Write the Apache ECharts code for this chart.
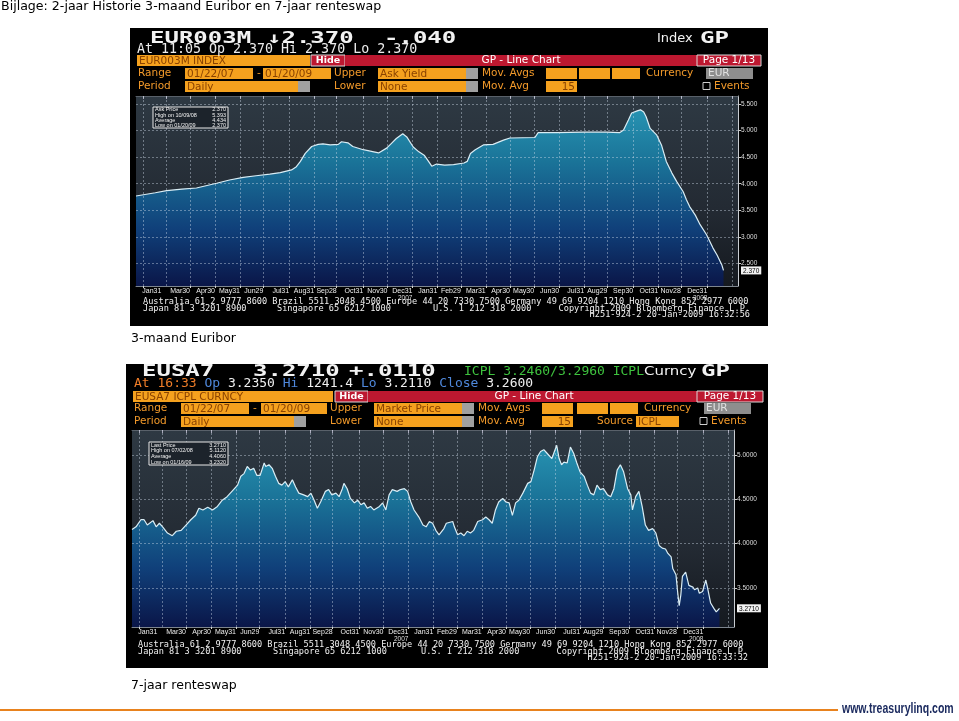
<!DOCTYPE html>
<html><head><meta charset="utf-8">
<script src="https://cdn.jsdelivr.net/npm/echarts@6/dist/echarts.min.js"></script>
<style>html,body{margin:0;padding:0;background:#fff;}#c{width:959px;height:721px;}</style>
</head><body><div id="c"></div>
<script>
// ---------- DATA ----------
const euriborDates = ['2007-01-22','2007-02-15','2007-03-01','2007-03-20','2007-04-07','2007-05-02','2007-05-18','2007-06-04','2007-06-20','2007-07-07','2007-07-20','2007-08-03','2007-08-09','2007-08-14','2007-08-20','2007-08-28','2007-09-05','2007-09-11','2007-09-20','2007-09-30','2007-10-04','2007-10-12','2007-10-18','2007-10-31','2007-11-19','2007-11-29','2007-12-05','2007-12-11','2007-12-19','2007-12-24','2008-01-01','2008-01-08','2008-01-15','2008-01-20','2008-01-24','2008-01-30','2008-02-09','2008-02-20','2008-03-04','2008-03-08','2008-03-12','2008-03-18','2008-03-28','2008-04-09','2008-04-22','2008-04-30','2008-05-31','2008-06-04','2008-06-06','2008-06-27','2008-07-30','2008-08-28','2008-09-13','2008-09-18','2008-09-24','2008-09-28','2008-10-05','2008-10-09','2008-10-13','2008-10-16','2008-10-21','2008-10-29','2008-11-04','2008-11-10','2008-11-17','2008-11-23','2008-12-01','2008-12-05','2008-12-09','2008-12-16','2008-12-22','2008-12-30','2009-01-07','2009-01-12','2009-01-18','2009-01-20'];
const euriborValues = [3.77,3.83,3.87,3.90,3.92,4.01,4.07,4.12,4.15,4.18,4.21,4.26,4.32,4.42,4.57,4.70,4.74,4.75,4.73,4.74,4.79,4.77,4.70,4.64,4.58,4.67,4.76,4.85,4.94,4.88,4.69,4.60,4.53,4.42,4.33,4.37,4.35,4.36,4.39,4.42,4.57,4.64,4.73,4.74,4.82,4.86,4.87,4.96,4.97,4.96,4.97,4.97,4.96,5.01,5.20,5.33,5.37,5.39,5.35,5.26,5.04,4.92,4.73,4.42,4.20,4.04,3.85,3.70,3.57,3.41,3.23,3.04,2.79,2.66,2.47,2.37];

const swapDates = ['2007-01-22','2007-01-27','2007-02-02','2007-02-06','2007-02-10','2007-02-17','2007-02-21','2007-02-25','2007-03-01','2007-03-07','2007-03-13','2007-03-18','2007-03-24','2007-03-30','2007-04-05','2007-04-11','2007-04-15','2007-04-20','2007-04-26','2007-05-02','2007-05-08','2007-05-14','2007-05-20','2007-05-26','2007-06-02','2007-06-06','2007-06-10','2007-06-14','2007-06-18','2007-06-22','2007-06-26','2007-06-30','2007-07-05','2007-07-07','2007-07-11','2007-07-15','2007-07-19','2007-07-23','2007-07-27','2007-07-31','2007-08-04','2007-08-09','2007-08-13','2007-08-17','2007-08-23','2007-08-28','2007-09-01','2007-09-05','2007-09-09','2007-09-13','2007-09-19','2007-09-23','2007-09-27','2007-10-02','2007-10-06','2007-10-10','2007-10-12','2007-10-16','2007-10-20','2007-10-25','2007-10-29','2007-11-02','2007-11-06','2007-11-10','2007-11-14','2007-11-18','2007-11-25','2007-11-29','2007-12-03','2007-12-07','2007-12-11','2007-12-17','2007-12-21','2007-12-26','2007-12-30','2008-01-03','2008-01-07','2008-01-13','2008-01-18','2008-01-22','2008-01-26','2008-01-30','2008-02-03','2008-02-07','2008-02-13','2008-02-16','2008-02-24','2008-02-26','2008-03-01','2008-03-05','2008-03-09','2008-03-13','2008-03-17','2008-03-21','2008-03-26','2008-04-01','2008-04-05','2008-04-09','2008-04-13','2008-04-17','2008-04-21','2008-04-26','2008-04-30','2008-05-04','2008-05-08','2008-05-12','2008-05-16','2008-05-21','2008-05-27','2008-05-31','2008-06-04','2008-06-08','2008-06-12','2008-06-16','2008-06-20','2008-06-26','2008-07-02','2008-07-05','2008-07-08','2008-07-11','2008-07-15','2008-07-19','2008-07-23','2008-07-27','2008-07-31','2008-08-05','2008-08-09','2008-08-13','2008-08-17','2008-08-21','2008-08-25','2008-08-29','2008-09-03','2008-09-07','2008-09-11','2008-09-15','2008-09-19','2008-09-23','2008-09-28','2008-10-02','2008-10-04','2008-10-08','2008-10-12','2008-10-16','2008-10-20','2008-10-24','2008-10-29','2008-10-31','2008-11-02','2008-11-06','2008-11-10','2008-11-14','2008-11-17','2008-11-21','2008-11-23','2008-11-27','2008-11-29','2008-12-01','2008-12-03','2008-12-05','2008-12-09','2008-12-11','2008-12-13','2008-12-18','2008-12-20','2008-12-24','2008-12-26','2008-12-30','2009-01-03','2009-01-05','2009-01-09','2009-01-13','2009-01-16','2009-01-20'];
const swapValues = [4.16,4.19,4.27,4.27,4.21,4.26,4.19,4.23,4.19,4.12,4.09,4.14,4.15,4.21,4.27,4.32,4.40,4.38,4.41,4.38,4.42,4.49,4.53,4.59,4.66,4.76,4.79,4.87,4.83,4.85,4.77,4.77,4.91,4.87,4.89,4.85,4.76,4.68,4.66,4.70,4.64,4.72,4.64,4.57,4.55,4.53,4.57,4.49,4.40,4.47,4.59,4.61,4.55,4.57,4.53,4.62,4.68,4.62,4.51,4.46,4.49,4.44,4.46,4.40,4.42,4.38,4.42,4.46,4.38,4.55,4.61,4.59,4.61,4.62,4.59,4.47,4.38,4.30,4.21,4.19,4.25,4.23,4.15,4.10,4.17,4.23,4.25,4.19,4.10,4.12,4.09,4.14,4.12,4.15,4.25,4.27,4.30,4.27,4.23,4.38,4.47,4.51,4.47,4.46,4.32,4.46,4.49,4.57,4.68,4.70,4.83,4.98,5.04,5.06,5.02,4.96,5.11,4.96,4.89,4.92,4.91,5.09,5.02,4.91,4.81,4.76,4.66,4.57,4.55,4.66,4.61,4.62,4.55,4.53,4.62,4.83,4.89,4.81,4.62,4.55,4.38,4.53,4.59,4.42,4.21,4.15,4.17,4.19,4.12,3.98,3.95,3.94,3.89,3.85,3.72,3.65,3.46,3.30,3.42,3.63,3.68,3.67,3.53,3.51,3.48,3.50,3.44,3.46,3.59,3.51,3.33,3.27,3.23,3.27];

const monthTickDates = ['2007-01-31','2007-02-28','2007-03-30','2007-04-30','2007-05-31','2007-06-29','2007-07-31','2007-08-31','2007-09-28','2007-10-31','2007-11-30','2007-12-31','2008-01-31','2008-02-29','2008-03-31','2008-04-30','2008-05-30','2008-06-30','2008-07-31','2008-08-29','2008-09-30','2008-10-31','2008-11-28','2008-12-31'];
const monthTickLabels = ['Jan31','...','Mar30','Apr30','May31','Jun29','Jul31','Aug31','Sep28','Oct31','Nov30','Dec31','Jan31','Feb29','Mar31','Apr30','May30','Jun30','Jul31','Aug29','Sep30','Oct31','Nov28','Dec31'];
const yearLabelDates = ['2007-12-31','2008-12-31'];
const yearLabels = ['2007','2008'];
const extraGridDates = ['2009-01-31'];
const rangeStart = '2007-01-22';
const rangeEnd = '2009-02-07';

const euriborTicks = [2.5,3.0,3.5,4.0,4.5,5.0,5.5];
const euriborLast = 2.37;
const swapTicks = [3.5,4.0,4.5,5.0];
const swapLast = 3.271;

const euriborInfoLabels = ['Ask Price','High on 10/09/08','Average','Low on 01/20/09'];
const euriborInfoValues = ['2.370','5.393','4.434','2.370'];
const swapInfoLabels = ['Last Price','High on 07/02/08','Average','Low on 01/16/09'];
const swapInfoValues = ['3.2710','5.1120','4.4060','3.2320'];

// ---------- HELPERS ----------
const ts = s => { const p = s.split('-').map(Number); return Date.UTC(p[0], p[1]-1, p[2]); };
const tickTs = monthTickDates.map(ts);
const vGridTs = monthTickDates.concat(extraGridDates).map(ts);

function xLabelFmt(v){
  const i = tickTs.findIndex(t => Math.abs(t - v) < 43200000);
  if (i < 0) return '';
  const tag = i === 0 ? 'f' : 'm';
  const yi = yearLabelDates.indexOf(monthTickDates[i]);
  return yi >= 0 ? '{m|' + monthTickLabels[i] + '}\n{y|' + yearLabels[yi] + '}' : '{' + tag + '|' + monthTickLabels[i] + '}';
}

function xAxes(gridIndex){
  return [{
    type:'value', gridIndex, min: ts(rangeStart), max: ts(rangeEnd), position:'bottom', scale:true,
    axisLine:{show:true, lineStyle:{color:'#7d858e', width:1}},
    axisTick:{show:true, customValues: tickTs, length:2, lineStyle:{color:'#d8d8d8'}},
    axisLabel:{customValues: tickTs, formatter: xLabelFmt, margin:2, align:'right', color:'#eee', fontSize:7,
      fontFamily:'Liberation Sans', showMinLabel:true, showMaxLabel:true,
      rich:{m:{fontSize:7, color:'#eeeeee', fontFamily:'Liberation Sans', lineHeight:7},
            f:{fontSize:7, color:'#eeeeee', fontFamily:'Liberation Sans', lineHeight:7, width:1, align:'left'},
            y:{fontSize:6.5, color:'#dddddd', fontFamily:'Liberation Sans', lineHeight:6.5}}},
    splitLine:{show:false}
  },{
    type:'value', gridIndex, min: ts(rangeStart), max: ts(rangeEnd), position:'top', scale:true,
    axisLine:{show:true, lineStyle:{color:'#59616a', width:1}},
    axisTick:{show:true, customValues: vGridTs, inside:true, length:3, lineStyle:{color:'#aab'}},
    axisLabel:{show:false}, splitLine:{show:false}
  }];
}

function yAxis(gridIndex, min, max, ticks, last, dec){
  return {
    type:'value', gridIndex, position:'right', min, max, scale:true,
    axisLine:{show:true, lineStyle:{color:'#c9cdd2', width:1}},
    axisTick:{show:true, customValues: ticks, length:3, lineStyle:{color:'#ccc'}},
    axisLabel:{customValues: ticks.concat([last]), margin:3, fontSize:6.5, color:'#dcdcdc', fontFamily:'Liberation Sans',
      formatter: v => Math.abs(v - last) < 1e-9 ? '{b|' + v.toFixed(dec) + '}' : v.toFixed(dec),
      rich:{b:{backgroundColor:'#f2f2f2', color:'#000', fontSize:6.5, padding:[1,2,0,2], fontFamily:'Liberation Sans'}}},
    splitLine:{show:false}
  };
}

function series(xi, yi, dates, values, ticks, top, bottom){
  return {
    type:'line', xAxisIndex:xi, yAxisIndex:yi, data: dates.map((d,i)=>[ts(d), values[i]]),
    symbol:'none', showSymbol:false, animation:false, silent:true,
    lineStyle:{color:'#d9edf5', width:1.2},
    areaStyle:{origin:'start', opacity:1, color:{type:'linear', x:0, y:top, x2:0, y2:bottom, global:true,
      colorStops:[{offset:0,color:'#2a9bb8'},{offset:0.35,color:'#1a7398'},{offset:0.7,color:'#10407a'},{offset:1,color:'#0a1648'}]}},
    markLine:{silent:true, symbol:['none','none'], animation:false, label:{show:false},
      lineStyle:{color:'rgba(210,222,235,0.42)', type:[2,2], width:1},
      data: vGridTs.map(t=>({xAxis:t})).concat(ticks.map(v=>({yAxis:v})))}
  };
}

// ---------- GRAPHICS (frame, header texts) ----------
const G = [];
const MONO = '"DejaVu Sans Mono"';
const SANS = '"DejaVu Sans"';
const ORANGE = '#f5a11e', OTXT = '#8a4200', LBL = '#f39a2a', RED = '#bd1830', GREY = '#a0a0a0';
function rect(x,y,w,h,fill,stroke,z){
  const st = {fill: fill || 'none'};
  if (stroke) { st.stroke = stroke; st.lineWidth = 1; }
  G.push({type:'rect', z: z===undefined?5:z, silent:true, shape:{x,y,width:w,height:h}, style:st});
}
function txt(x,y,text,fill,font,align,sx,rich,z){
  const st = {text, fill, font, align: align||'left', verticalAlign:'middle'};
  if (rich) st.rich = rich;
  G.push({type:'text', z: z===undefined?6:z, silent:true, x, y, scaleX: sx||1, style:st});
}
function obox(x,y,w,h,text,greyEnd,alignRight){
  rect(x,y,w,h,ORANGE);
  if (greyEnd) rect(x+w,y,12,h,GREY);
  if (text) txt(alignRight ? x+w-2 : x+2, y+h/2+0.5, text, OTXT, '10.5px '+SANS, alignRight?'right':'left');
}
function infoBox(x,y,w,h,labels,values){
  rect(x,y,w,h,'#1c232b','#e8e8e8',8);
  const lh = h/labels.length;
  labels.forEach((l,i)=>{
    txt(x+2, y+lh*(i+0.5)+0.3, l, '#f0f0f0', '5.5px "Liberation Sans"','left',1,null,9);
    txt(x+w-2, y+lh*(i+0.5)+0.3, values[i], '#f0f0f0', '5.5px "Liberation Sans"','right',1,null,9);
  });
}
const BIG = 'bold 16px '+MONO;

// page title + captions
txt(1, 7, 'Bijlage: 2-jaar Historie 3-maand Euribor en 7-jaar renteswap', '#000', '12.6px '+SANS);
txt(131, 339, '3-maand Euribor', '#000', '12.5px '+SANS);
txt(131, 686, '7-jaar renteswap', '#000', '12.5px '+SANS);
G.push({type:'line', silent:true, shape:{x1:0,y1:710,x2:838,y2:710}, style:{stroke:'#e8821e', lineWidth:2}});
txt(842, 709, 'www.treasurylinq.com', '#1d2c60', 'bold 14px "Liberation Sans"', 'left', 0.75);

// ---- Panel 1 ----
rect(130, 28, 638, 298, '#000', null, -1);
txt(150, 39, 'EUR003M', '#f2f2f2', BIG, 'left', 1.5);
txt(267, 39, '\u21932.370', '#f2f2f2', BIG, 'left', 1.5);
txt(384, 39, '-.040', '#f2f2f2', BIG, 'left', 1.5);
txt(657, 39, 'Index', '#f2f2f2', '13px '+SANS);
txt(700, 39, 'GP', '#f2f2f2', BIG, 'left', 1.5);
txt(137, 50, 'At 11:05 Op 2.370 Hi 2.370 Lo 2.370', '#ececec', '13.3px '+MONO);
obox(137, 55, 173, 11, 'EUR003M INDEX');
rect(311, 55, 34, 11, RED, '#d8d8d8'); txt(328, 60.5, 'Hide', '#fff', 'bold 9.5px '+SANS, 'center');
rect(345, 55, 352, 11, RED); txt(521, 60.5, 'GP - Line Chart', '#fff', '10.5px '+SANS, 'center');
rect(697, 55, 64, 11, RED, '#d8d8d8'); txt(729, 60.5, 'Page 1/13', '#fff', '10.5px '+SANS, 'center');
txt(138, 73.5, 'Range', LBL, '10.5px '+SANS);
obox(185, 68, 68, 11, '01/22/07'); txt(257, 73, '-', LBL, '10.5px '+SANS);
obox(263, 68, 68, 11, '01/20/09');
txt(334, 73.5, 'Upper', LBL, '10.5px '+SANS);
obox(378, 68, 88, 11, 'Ask Yield', true);
txt(482, 73.5, 'Mov. Avgs', LBL, '10.5px '+SANS);
obox(546, 68, 31, 11); obox(579, 68, 31, 11); obox(612, 68, 28, 11);
txt(646, 73.5, 'Currency', LBL, '10.5px '+SANS);
rect(706, 68, 47, 11, '#8e8e8e'); txt(708, 73.5, 'EUR', '#e0e0e0', '10.5px '+SANS);
txt(138, 86.5, 'Period', LBL, '10.5px '+SANS);
obox(185, 81, 113, 11, 'Daily', true);
txt(334, 86.5, 'Lower', LBL, '10.5px '+SANS);
obox(378, 81, 88, 11, 'None', true);
txt(482, 86.5, 'Mov. Avg', LBL, '10.5px '+SANS);
obox(546, 81, 31, 11, '15', false, true);
rect(703, 82.5, 7, 7, null, '#cfcfcf'); txt(714, 86.5, 'Events', LBL, '10.5px '+SANS);
infoBox(153, 107, 75, 21, euriborInfoLabels, euriborInfoValues);
txt(143, 302, 'Australia 61 2 9777 8600 Brazil 5511 3048 4500 Europe 44 20 7330 7500 Germany 49 69 9204 1210 Hong Kong 852 2977 6000', '#f0f0f0', '8.6px '+MONO);
txt(143, 308.5, 'Japan 81 3 3201 8900', '#f0f0f0', '8.6px '+MONO);
txt(277, 308.5, 'Singapore 65 6212 1000', '#f0f0f0', '8.6px '+MONO);
txt(433, 308.5, 'U.S. 1 212 318 2000', '#f0f0f0', '8.6px '+MONO);
txt(750, 308.5, 'Copyright 2009 Bloomberg Finance L.P.', '#f0f0f0', '8.6px '+MONO, 'right');
txt(750, 315, 'H251-924-2 20-Jan-2009 16:32:56', '#f0f0f0', '8.6px '+MONO, 'right');

// ---- Panel 2 ----
rect(126, 364, 642, 304, '#000', null, -1);
txt(142, 372, 'EUSA7', '#f2f2f2', BIG, 'left', 1.5);
txt(253, 372, '3.2710', '#f2f2f2', BIG, 'left', 1.5);
txt(349, 372, '+.0110', '#f2f2f2', BIG, 'left', 1.5);
txt(464, 372, 'ICPL 3.2460/3.2960 ICPL', '#3ec23e', '13px '+MONO);
txt(644, 372, 'Curncy', '#f2f2f2', '13px '+SANS, 'left', 1.15);
txt(701, 372, 'GP', '#f2f2f2', BIG, 'left', 1.5);
txt(134, 384, '{o|At 16:33} {b|Op} {w|3.2350} {b|Hi} {w|1241.4} {b|Lo} {w|3.2110} {b|Close} {w|3.2600}', '#ececec', '13px '+MONO, 'left', 1,
  {o:{fill:'#ef7d28', font:'13px '+MONO}, b:{fill:'#4f88dc', font:'13px '+MONO}, w:{fill:'#f0f0f0', font:'13px '+MONO}});
obox(133, 391, 200, 11, 'EUSA7 ICPL CURNCY');
rect(335, 391, 33, 11, RED, '#d8d8d8'); txt(351.5, 396.5, 'Hide', '#fff', 'bold 9.5px '+SANS, 'center');
rect(368, 391, 329, 11, RED); txt(534, 396.5, 'GP - Line Chart', '#fff', '10.5px '+SANS, 'center');
rect(697, 391, 66, 11, RED, '#d8d8d8'); txt(730, 396.5, 'Page 1/13', '#fff', '10.5px '+SANS, 'center');
txt(134, 408.5, 'Range', LBL, '10.5px '+SANS);
obox(181, 403, 68, 11, '01/22/07'); txt(253, 408, '-', LBL, '10.5px '+SANS);
obox(261, 403, 66, 11, '01/20/09');
txt(330, 408.5, 'Upper', LBL, '10.5px '+SANS);
obox(374, 403, 88, 11, 'Market Price', true);
txt(478, 408.5, 'Mov. Avgs', LBL, '10.5px '+SANS);
obox(542, 403, 31, 11); obox(577, 403, 31, 11); obox(610, 403, 28, 11);
txt(644, 408.5, 'Currency', LBL, '10.5px '+SANS);
rect(704, 403, 47, 11, '#8e8e8e'); txt(706, 408.5, 'EUR', '#e0e0e0', '10.5px '+SANS);
txt(134, 421.5, 'Period', LBL, '10.5px '+SANS);
obox(181, 416, 113, 11, 'Daily', true);
txt(330, 421.5, 'Lower', LBL, '10.5px '+SANS);
obox(374, 416, 88, 11, 'None', true);
txt(478, 421.5, 'Mov. Avg', LBL, '10.5px '+SANS);
obox(542, 416, 31, 11, '15', false, true);
txt(597, 421.5, 'Source', LBL, '10.5px '+SANS);
obox(636, 416, 43, 11, 'ICPL');
rect(700, 417.5, 7, 7, null, '#cfcfcf'); txt(711, 421.5, 'Events', LBL, '10.5px '+SANS);
infoBox(149, 442, 79, 23, swapInfoLabels, swapInfoValues);
txt(138, 645, 'Australia 61 2 9777 8600 Brazil 5511 3048 4500 Europe 44 20 7330 7500 Germany 49 69 9204 1210 Hong Kong 852 2977 6000', '#f0f0f0', '8.6px '+MONO);
txt(138, 651.5, 'Japan 81 3 3201 8900', '#f0f0f0', '8.6px '+MONO);
txt(273, 651.5, 'Singapore 65 6212 1000', '#f0f0f0', '8.6px '+MONO);
txt(421, 651.5, 'U.S. 1 212 318 2000', '#f0f0f0', '8.6px '+MONO);
txt(748, 651.5, 'Copyright 2009 Bloomberg Finance L.P.', '#f0f0f0', '8.6px '+MONO, 'right');
txt(748, 658, 'H251-924-2 20-Jan-2009 16:33:32', '#f0f0f0', '8.6px '+MONO, 'right');

// ---------- CHART ----------
const plotBg = {type:'linear', x:0, y:0, x2:0, y2:1, colorStops:[{offset:0,color:'#2e3943'},{offset:0.6,color:'#232a33'},{offset:1,color:'#15191f'}]};
const chart = echarts.init(document.getElementById('c'), null, {renderer:'canvas', width:959, height:721});
chart.setOption({
  animation:false,
  backgroundColor:'#ffffff',
  grid:[
    {left:136, top:96, width:602, height:190, show:true, backgroundColor:plotBg, borderWidth:0},
    {left:132, top:430, width:602, height:197, show:true, backgroundColor:plotBg, borderWidth:0}
  ],
  xAxis: xAxes(0).concat(xAxes(1)),
  yAxis: [
    yAxis(0, 2.077, 5.65, euriborTicks, euriborLast, 3),
    yAxis(1, 3.06, 5.282, swapTicks, swapLast, 4)
  ],
  series: [
    series(0, 0, euriborDates, euriborValues, euriborTicks, 96, 286),
    series(2, 1, swapDates, swapValues, swapTicks, 430, 627)
  ],
  graphic: {elements: G}
});
</script>
</body></html>
